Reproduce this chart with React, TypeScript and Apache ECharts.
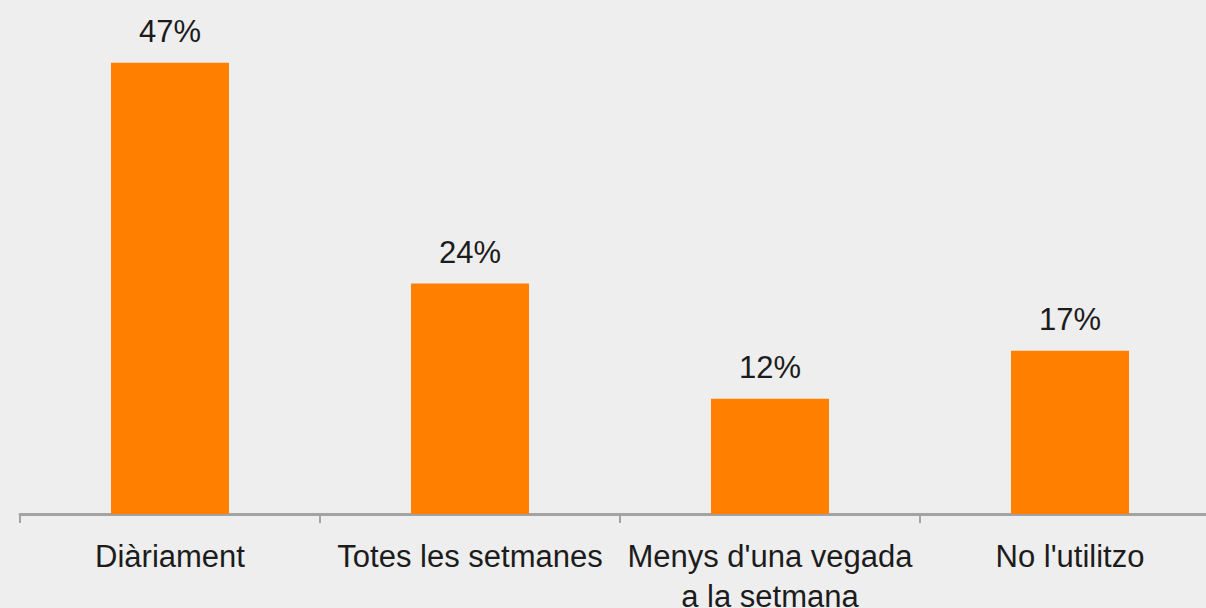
import React, { useEffect, useRef } from "react";
import * as echarts from "echarts";

const categories = ["Diàriament", "Totes les setmanes", "Menys d'una vegada\na la setmana", "No l'utilitzo"];
const values = [47, 24, 12, 17];

export default function App() {
  const ref = useRef<HTMLDivElement>(null);
  useEffect(() => {
    document.documentElement.style.overflow = "hidden";
    document.body.style.margin = "0";
    document.body.style.overflow = "hidden";
    const chart = echarts.init(ref.current!, null, { renderer: "svg" });
    chart.setOption({
      animation: false,
      backgroundColor: "#eeeeee",
      grid: { left: 20, right: -14, top: 34, bottom: 94, containLabel: false, outerBoundsMode: "none" },
      xAxis: {
        type: "category",
        data: categories,
        axisLine: { show: true, lineStyle: { color: "#a3a3a3", width: 3 } },
        axisTick: { show: true, length: 9, lineStyle: { color: "#a3a3a3", width: 2 } },
        axisLabel: {
          interval: 0,
          margin: 22,
          color: "#1c1c1c",
          fontSize: 31,
          lineHeight: 40,
          fontFamily: "Liberation Sans, Arial, sans-serif",
          align: "center",
        },
      },
      yAxis: { type: "value", min: 0, max: 50, show: false, splitLine: { show: false } },
      series: [
        {
          type: "bar",
          data: values,
          barWidth: 118,
          itemStyle: { color: "#ff7f00" },
          label: {
            show: true,
            position: "top",
            distance: 16,
            formatter: "{c}%",
            color: "#1c1c1c",
            fontSize: 31,
            fontFamily: "Liberation Sans, Arial, sans-serif",
          },
        },
      ],
    });
    return () => chart.dispose();
  }, []);
  return (
    <div
      ref={ref}
      style={{ position: "absolute", left: 0, top: 0, width: 1206, height: 608, overflow: "hidden" }}
    />
  );
}
